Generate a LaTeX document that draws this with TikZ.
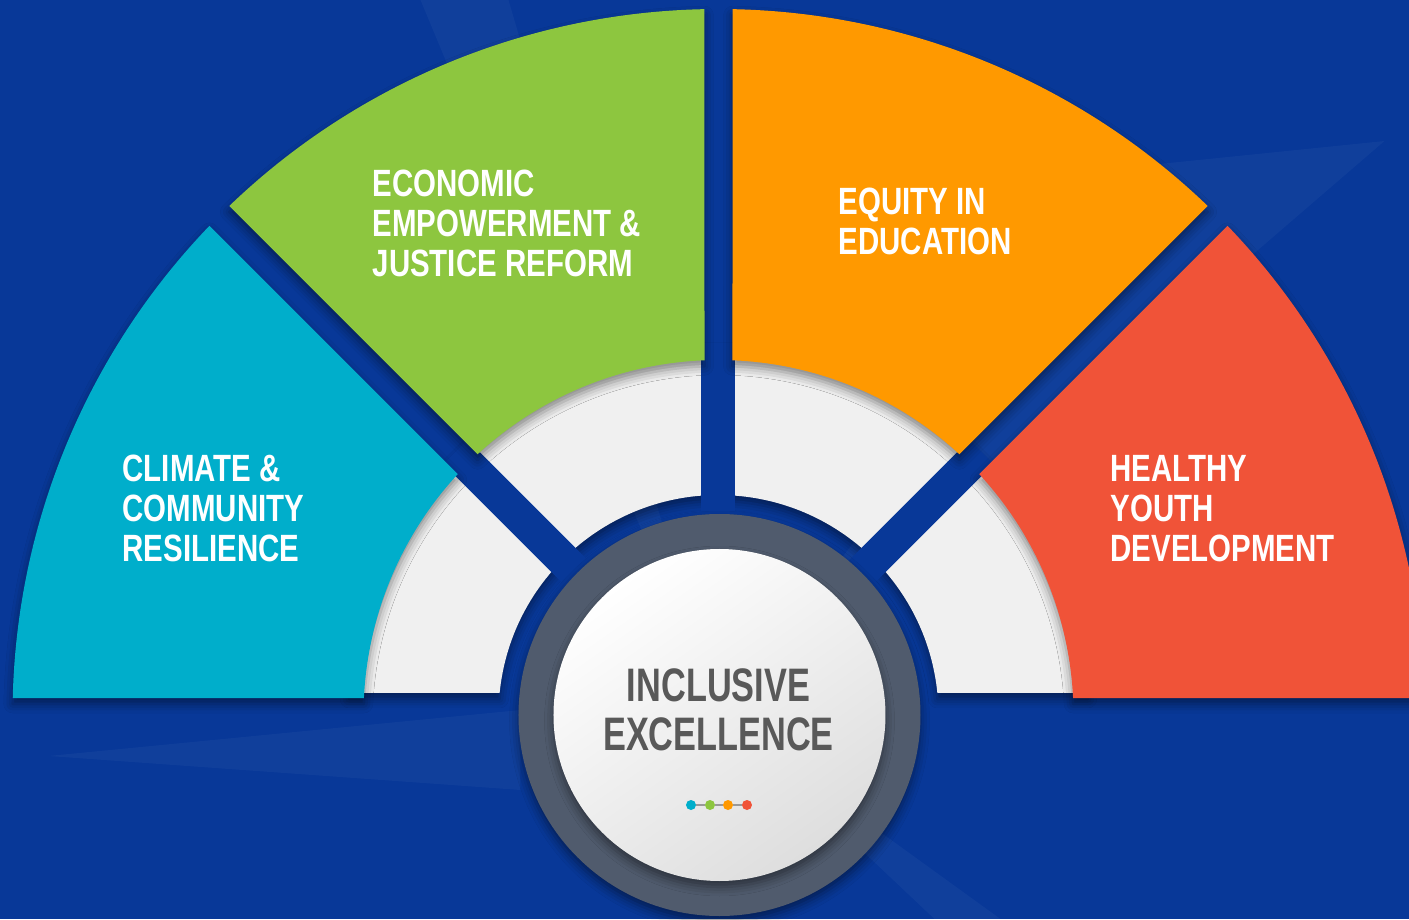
\documentclass[tikz,border=0pt]{standalone}
\usepackage{fontspec}
\newfontfamily\labelfont[FakeStretch=0.775]{Liberation Sans}
\newfontfamily\hubfont[FakeStretch=0.73]{Liberation Sans}
\usetikzlibrary{shadows.blur}
\definecolor{bgblue}{RGB}{8,56,152}
\definecolor{cyanseg}{RGB}{0,174,203}
\definecolor{greenseg}{RGB}{141,198,63}
\definecolor{orangeseg}{RGB}{255,153,0}
\definecolor{redseg}{RGB}{240,83,56}
\definecolor{ringgray}{RGB}{80,91,109}
\definecolor{hubgray}{RGB}{89,89,89}
\begin{document}
\begin{tikzpicture}[x=1pt,y=1pt,
    petal/.style={blur shadow={shadow xshift=0pt,shadow yshift=-6pt,shadow blur radius=9pt,shadow opacity=45}},
    areatext/.style={anchor=north west,inner sep=0pt,align=left,text=white,font=\labelfont\bfseries\fontsize{38}{40}\selectfont},
    hubtext/.style={anchor=north,inner sep=0pt,align=center,text=hubgray,font=\hubfont\bfseries\fontsize{47}{49.5}\selectfont},
    hubdot/.style={circle,inner sep=0pt,minimum size=10pt}]
  \useasboundingbox (-718.5,-204) rectangle (690.5,715);
  \fill[bgblue] (-718.5,-204) rectangle (690.5,715);
  % faint rays
  \fill[white,opacity=0.035] (-298,715) -- (-210,715) -- (0,0) -- cycle;
  \fill[white,opacity=0.035] (666,574) -- (431,550) -- (0,0) -- cycle;
  \fill[white,opacity=0.035] (-670,-41) -- (-198,5) -- (-198,-75) -- cycle;
  \fill[white,opacity=0.035] (216,-204) -- (282,-204) -- (0,0) -- cycle;
  % white ring
  \fill[black!6,petal] (5.74:220) -- (3.41:370) arc[start angle=3.41,end angle=176.59,radius=370]
    -- (174.26:220) arc[start angle=174.26,end angle=5.74,radius=220] -- cycle;
  \foreach \a in {45,90,135}
    \draw[bgblue,line width=34pt] (0,0) -- (\a:372);
  % four sectors
  \fill[cyanseg,petal] (137.26:355) -- (136.14:706) arc[start angle=136.14,end angle=178.62,radius=706]
    -- (177.26:355) arc[start angle=177.26,end angle=137.26,radius=355] -- cycle;
  \fill[greenseg,petal] (92.26:355) -- (91.14:706) arc[start angle=91.14,end angle=133.86,radius=706]
    -- (132.74:355) arc[start angle=132.74,end angle=92.26,radius=355] -- cycle;
  \fill[orangeseg,petal] (87.74:355) -- (88.86:706) arc[start angle=88.86,end angle=46.14,radius=706]
    -- (47.26:355) arc[start angle=47.26,end angle=87.74,radius=355] -- cycle;
  \fill[redseg,petal] (42.74:355) -- (43.86:706) arc[start angle=43.86,end angle=1.38,radius=706]
    -- (2.74:355) arc[start angle=2.74,end angle=42.74,radius=355] -- cycle;
  % hub
  \fill[ringgray,petal] (1,0) circle[radius=201];
  \shade[top color=white,bottom color=black!13,shading angle=35,petal] (1,0) circle[radius=166];
  \node[areatext] (climate) at (-596,260) {CLIMATE \&\\COMMUNITY\\RESILIENCE};
  \node[areatext] (economic) at (-346,545) {ECONOMIC\\EMPOWERMENT \&\\JUSTICE REFORM};
  \node[areatext] (equity) at (120,527) {EQUITY IN\\EDUCATION};
  \node[areatext] (healthy) at (392,260) {HEALTHY\\YOUTH\\DEVELOPMENT};
  \node[hubtext] (hub) at (0,47) {INCLUSIVE\\EXCELLENCE};
  \foreach \n/\x/\col in {1/-27.5/cyanseg,2/-8.5/greenseg,3/9.5/orangeseg,4/28.5/redseg}
    \node[hubdot,fill=\col] (d\n) at (\x,-90) {};
  \draw[black!40,line width=1.5pt] (d1) -- (d2) (d2) -- (d3) (d3) -- (d4);
\end{tikzpicture}
\end{document}
